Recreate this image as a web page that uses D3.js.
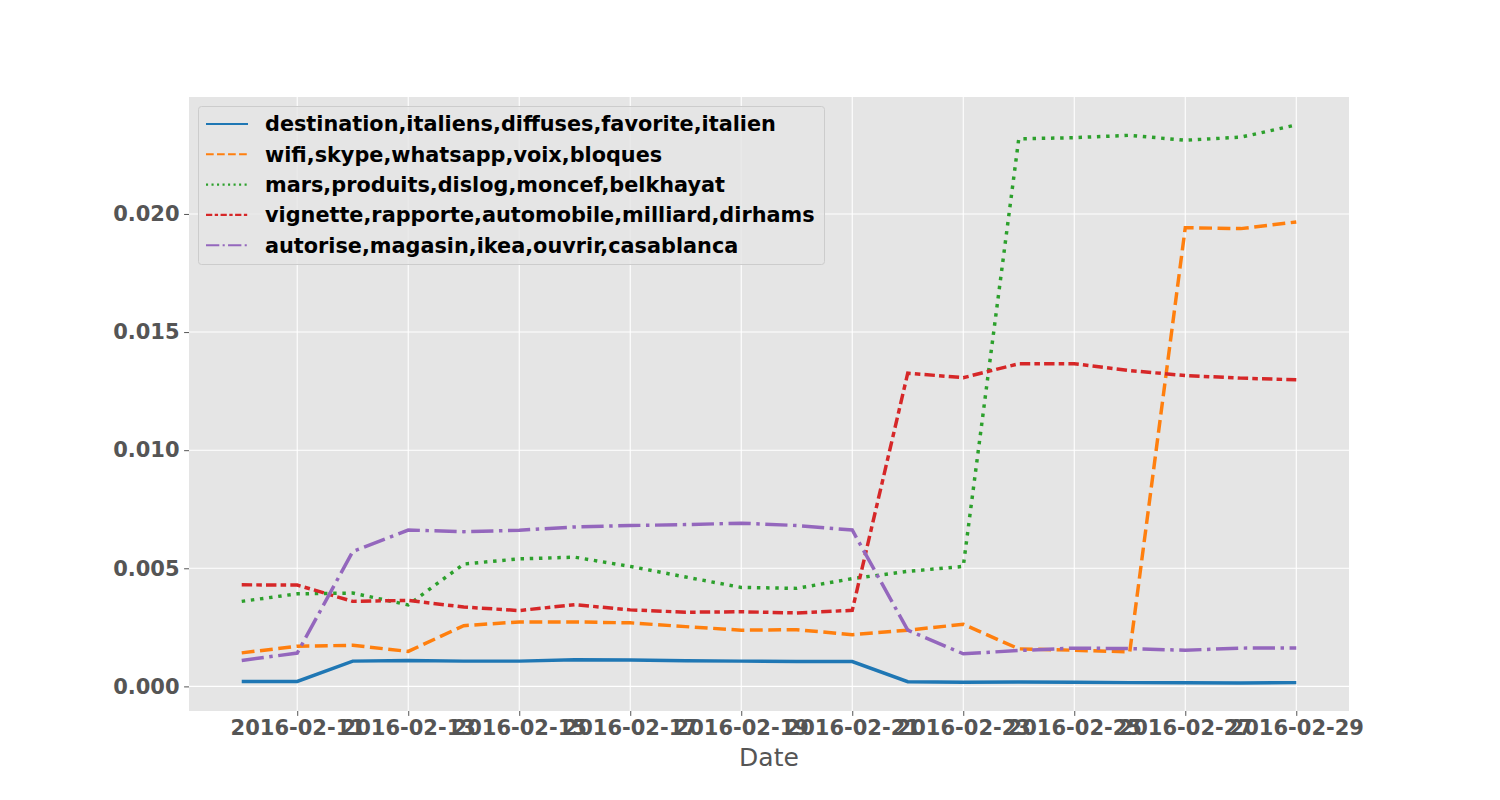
<!DOCTYPE html>
<html>
<head>
<meta charset="utf-8">
<script src="https://cdnjs.cloudflare.com/ajax/libs/d3/7.8.5/d3.min.js"></script>
<style>
  body { margin: 0; background: #fff; }
  svg { font-family: "DejaVu Sans", sans-serif; }
</style>
</head>
<body>
<svg id="chart" width="1500" height="800"></svg>
<script>
// daily dates, 2016-02-10 .. 2016-02-29
var dates = ["2016-02-10","2016-02-11","2016-02-12","2016-02-13","2016-02-14","2016-02-15","2016-02-16",
  "2016-02-17","2016-02-18","2016-02-19","2016-02-20","2016-02-21","2016-02-22","2016-02-23",
  "2016-02-24","2016-02-25","2016-02-26","2016-02-27","2016-02-28","2016-02-29"];

var names = [
  "destination,italiens,diffuses,favorite,italien",
  "wifi,skype,whatsapp,voix,bloques",
  "mars,produits,dislog,moncef,belkhayat",
  "vignette,rapporte,automobile,milliard,dirhams",
  "autorise,magasin,ikea,ouvrir,casablanca"
];

var destination = [0.00021,0.00021,0.00107,0.00110,0.00107,0.00107,0.00113,0.00112,0.00109,0.00107,
  0.00105,0.00105,0.00020,0.00018,0.00019,0.00018,0.00016,0.00015,0.00014,0.00016];
var wifi = [0.00142,0.00170,0.00174,0.00148,0.00257,0.00273,0.00273,0.00269,0.00253,0.00238,
  0.00240,0.00219,0.00238,0.00263,0.00159,0.00153,0.00146,0.01942,0.01938,0.01966];
var mars = [0.00360,0.00392,0.00395,0.00345,0.00518,0.00540,0.00547,0.00508,0.00463,0.00419,
  0.00415,0.00456,0.00487,0.00508,0.02318,0.02323,0.02333,0.02312,0.02325,0.02377];
var vignette = [0.00430,0.00429,0.00360,0.00364,0.00336,0.00321,0.00346,0.00324,0.00314,0.00316,
  0.00311,0.00322,0.01326,0.01307,0.01366,0.01366,0.01337,0.01316,0.01305,0.01298];
var autorise = [0.00110,0.00141,0.00571,0.00662,0.00655,0.00661,0.00675,0.00681,0.00685,0.00691,
  0.00681,0.00662,0.00238,0.00138,0.00152,0.00162,0.00160,0.00153,0.00162,0.00163];

var yTicks = [0, 0.005, 0.010, 0.015, 0.020];
var xTicks = ["2016-02-11","2016-02-13","2016-02-15","2016-02-17","2016-02-19",
  "2016-02-21","2016-02-23","2016-02-25","2016-02-27","2016-02-29"];

var colors = ["#1f77b4", "#ff7f0e", "#2ca02c", "#d62728", "#9467bd"];
var series = [destination, wifi, mars, vignette, autorise];
// dash patterns in units of line width
var patterns = [null, [3.7, 1.6], [1, 1.65], [3, 1.2, 1.6, 1.2], [6.4, 1.6, 1, 1.6]];

var parse = d3.utcParse("%Y-%m-%d");
var fmt = d3.utcFormat("%Y-%m-%d");

var pL = 189, pR = 1349, pT = 97, pB = 711;
var svg = d3.select("#chart");

var t0 = parse(dates[0]).getTime(), t1 = parse(dates[dates.length - 1]).getTime();
var pad = (t1 - t0) * 0.05;
var x = d3.scaleUtc().domain([new Date(t0 - pad), new Date(t1 + pad)]).range([pL, pR]);

var allVals = [].concat.apply([], series);
var ymin = d3.min(allVals), ymax = d3.max(allVals), ypad = (ymax - ymin) * 0.05;
var y = d3.scaleLinear().domain([ymin - ypad, ymax + ypad]).range([pB, pT]);

// panel
svg.append("rect").attr("x", pL).attr("y", pT)
  .attr("width", pR - pL).attr("height", pB - pT).attr("fill", "#e5e5e5");

// grid
svg.append("g").selectAll("line").data(yTicks).enter().append("line")
  .attr("x1", pL).attr("x2", pR)
  .attr("y1", function(d) { return y(d); }).attr("y2", function(d) { return y(d); })
  .attr("stroke", "#fff").attr("stroke-width", 1.1);
svg.append("g").selectAll("line").data(xTicks).enter().append("line")
  .attr("y1", pT).attr("y2", pB)
  .attr("x1", function(d) { return x(parse(d)); }).attr("x2", function(d) { return x(parse(d)); })
  .attr("stroke", "#fff").attr("stroke-width", 1.1);

// axes
var xAxis = d3.axisBottom(x).tickValues(xTicks.map(parse)).tickFormat(fmt)
  .tickSize(4.9).tickPadding(4.5);
var gx = svg.append("g").attr("transform", "translate(0," + pB + ")").call(xAxis);
var yAxis = d3.axisLeft(y).tickValues(yTicks).tickFormat(d3.format(".3f"))
  .tickSize(4.9).tickPadding(4.5);
var gy = svg.append("g").attr("transform", "translate(" + pL + ",0)").call(yAxis);

[gx, gy].forEach(function(g) {
  g.select(".domain").remove();
  g.selectAll(".tick line").attr("stroke", "#555");
  g.selectAll(".tick text").attr("fill", "#555")
    .style("font-size", "21px").style("font-weight", "bold")
    .style("font-family", "'DejaVu Sans', sans-serif");
});

svg.append("text").attr("x", (pL + pR) / 2).attr("y", 766)
  .attr("text-anchor", "middle").attr("fill", "#555")
  .style("font-size", "25px").text("Date");

// lines
var lw = 3.47;
function dash(k, w) {
  return patterns[k] ? patterns[k].map(function(v) { return v * w; }).join(",") : null;
}

var line = d3.line()
  .x(function(d, i) { return x(parse(dates[i])); })
  .y(function(d) { return y(d); });

svg.append("clipPath").attr("id", "clip").append("rect")
  .attr("x", pL).attr("y", pT).attr("width", pR - pL).attr("height", pB - pT);

series.forEach(function(s, k) {
  svg.append("path").datum(s)
    .attr("clip-path", "url(#clip)")
    .attr("d", line)
    .attr("fill", "none")
    .attr("stroke", colors[k])
    .attr("stroke-width", lw)
    .attr("stroke-dasharray", dash(k, lw));
});

// legend
var lg = svg.append("g");
lg.append("rect").attr("x", 198.5).attr("y", 106.5).attr("width", 626).attr("height", 158)
  .attr("rx", 3).attr("fill", "#e5e5e5").attr("fill-opacity", 0.8)
  .attr("stroke", "#cccccc").attr("stroke-width", 1);

var lw2 = 2.08;
names.forEach(function(n, k) {
  var cy = 124 + k * 30.3;
  lg.append("line").attr("x1", 206).attr("x2", 248).attr("y1", cy).attr("y2", cy)
    .attr("stroke", colors[k]).attr("stroke-width", lw2)
    .attr("stroke-dasharray", dash(k, lw2));
  lg.append("text").attr("x", 265).attr("y", cy).attr("dy", "0.36em")
    .attr("fill", "#000").style("font-size", "20.8px").style("font-weight", "bold")
    .text(n);
});
</script>
</body>
</html>
